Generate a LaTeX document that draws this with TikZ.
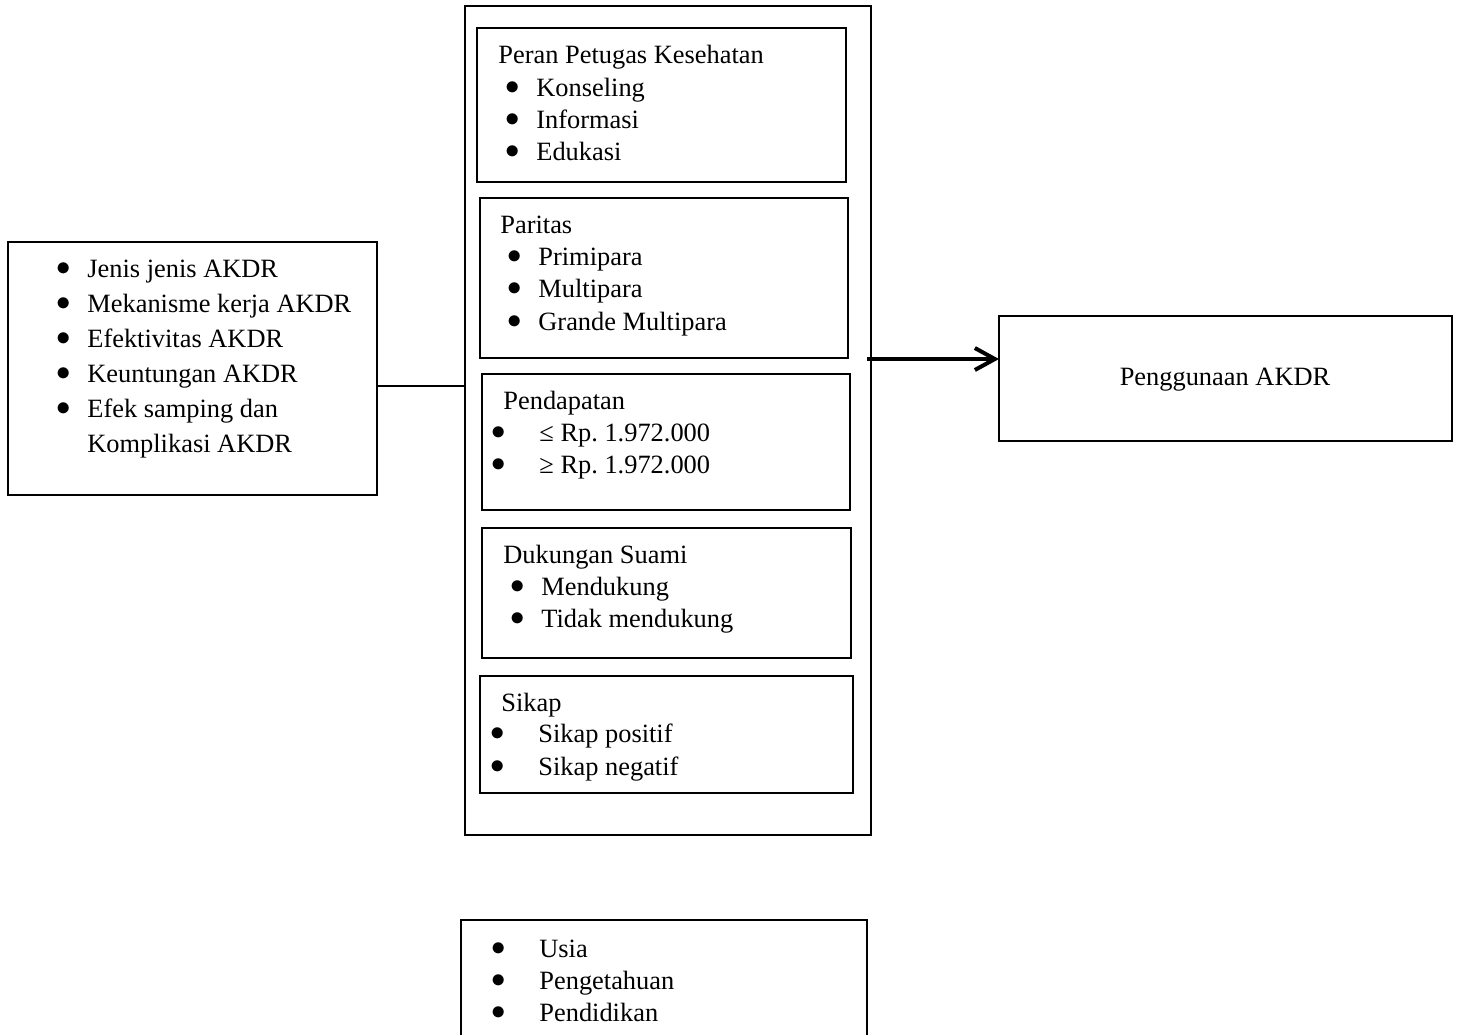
\documentclass[tikz,border=0pt]{standalone}
\usepackage{fontspec}
\usepackage{graphicx}
\setmainfont{Liberation Serif}
\usetikzlibrary{arrows.meta}

\newcommand{\bigdot}{\raisebox{0.6pt}{\scalebox{1.2}{$\bullet$}}}
\newcommand{\bul}[1]{\llap{\bigdot\hspace{8.1pt}}#1}
\newcommand{\bulwide}[1]{\llap{\bigdot\hspace{16.6pt}}#1}

\begin{document}
\frenchspacing
\begin{tikzpicture}[
    x=0.5pt, y=-0.5pt,
    frame/.style={draw, anchor=north west, outer sep=0pt, inner sep=0pt, line width=1pt},
    txt/.style={anchor=base west, inner sep=0pt, font=\fontsize{13.2}{16}\selectfont},
    arrow/.style={-{Straight Barb[length=10pt,width=11pt]}, line width=2pt},
    link/.style={line width=0.7pt}
  ]
    \useasboundingbox (0,0) rectangle (1461,1034);
    \clip (0,0) rectangle (1461,1034);
    % boxes
    \node[frame, line width=1.4pt, minimum width=203pt, minimum height=414.5pt] (faktor) at (465,6) {};
    \node[frame, minimum width=184.5pt, minimum height=77pt] (peran) at (477,28) {};
    \node[frame, minimum width=184pt, minimum height=80pt] (paritas) at (480,198) {};
    \node[frame, minimum width=184pt, minimum height=68pt] (pendapatan) at (482,374) {};
    \node[frame, minimum width=184.5pt, minimum height=65pt] (dukungan) at (482,528) {};
    \node[frame, minimum width=186.5pt, minimum height=58.5pt] (sikap) at (480,676) {};
    \node[frame, line width=1.2pt, minimum width=184.5pt, minimum height=126.5pt] (materi) at (8,242) {};
    \node[frame, line width=1.1pt, minimum width=226.5pt, minimum height=62.5pt] (guna) at (999,316) {};
    \node[frame, line width=1.1pt, minimum width=203pt, minimum height=75pt] (lain) at (461,920) {};
    % texts
    \node[txt] (peranT) at (498,63) {Peran Petugas Kesehatan};
    \node[txt] (peran1) at (536,96) {\bul{Konseling}};
    \node[txt] (peran2) at (536,128) {\bul{Informasi}};
    \node[txt] (peran3) at (536,160) {\bul{Edukasi}};
    \node[txt] (paritasT) at (500,233) {Paritas};
    \node[txt] (paritas1) at (538,265) {\bul{Primipara}};
    \node[txt] (paritas2) at (538,297) {\bul{Multipara}};
    \node[txt] (paritas3) at (538,330) {\bul{Grande Multipara}};
    \node[txt] (pendapatanT) at (503,409) {Pendapatan};
    \node[txt] (pendapatan1) at (539,441) {\bulwide{≤ Rp. 1.972.000}};
    \node[txt] (pendapatan2) at (539,473) {\bulwide{≥ Rp. 1.972.000}};
    \node[txt] (dukunganT) at (503,563) {Dukungan Suami};
    \node[txt] (dukungan1) at (541,595) {\bul{Mendukung}};
    \node[txt] (dukungan2) at (541,627) {\bul{Tidak mendukung}};
    \node[txt] (sikapT) at (501,711) {Sikap};
    \node[txt] (sikap1) at (538,742) {\bulwide{Sikap positif}};
    \node[txt] (sikap2) at (538,775) {\bulwide{Sikap negatif}};
    \node[txt] (materi1) at (87,277) {\bul{Jenis jenis AKDR}};
    \node[txt] (materi2) at (87,312) {\bul{Mekanisme kerja AKDR}};
    \node[txt] (materi3) at (87,347) {\bul{Efektivitas AKDR}};
    \node[txt] (materi4) at (87,382) {\bul{Keuntungan AKDR}};
    \node[txt] (materi5) at (87,417) {\bul{Efek samping dan}};
    \node[txt] (materi6) at (87,452) {Komplikasi AKDR};
    \node[txt, anchor=base] (gunaT) at (1225,385) {Penggunaan AKDR};
    \node[txt] (lain1) at (539,957) {\bulwide{Usia}};
    \node[txt] (lain2) at (539,989) {\bulwide{Pengetahuan}};
    \node[txt] (lain3) at (539,1021) {\bulwide{Pendidikan}};
    % connectors
    \coordinate (join) at (420,386);
    \coordinate (start) at (867,359);
    \draw[link] (join -| materi.east) -- (join -| faktor.west);
    \draw[arrow] (start) -- (start -| guna.west);
\end{tikzpicture}
\end{document}
